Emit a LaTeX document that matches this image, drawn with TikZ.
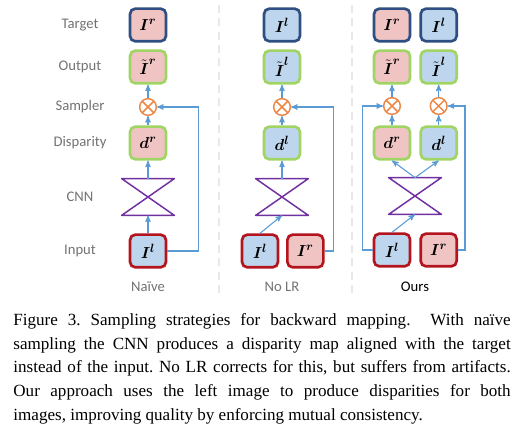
\documentclass[tikz,border=0pt]{standalone}
\usepackage{amsmath}
\usepackage{fontspec}
\setmainfont{Liberation Serif}
\newfontfamily\lblfont{Carlito}
\usepackage{tikz}
\usetikzlibrary{arrows,positioning}
\definecolor{pinkf}{RGB}{241,196,196}
\definecolor{bluef}{RGB}{190,214,237}
\definecolor{tgtblue}{RGB}{47,78,130}
\definecolor{outgreen}{RGB}{160,212,100}
\definecolor{inred}{RGB}{180,20,30}
\definecolor{smporange}{RGB}{237,135,70}
\definecolor{cnnpurple}{RGB}{112,48,160}
\definecolor{flowblue}{RGB}{91,155,213}
\definecolor{lblgray}{RGB}{115,115,115}

\begin{document}
\begin{tikzpicture}[x=0.75pt,y=-0.75pt,->,>=stealth',semithick,node distance=35pt]
		\tikzstyle{img}=[draw,line width=2pt,rounded corners=4pt,minimum width=27pt,minimum height=24.5pt,inner sep=0pt,font=\fontsize{13}{13}\selectfont]
		\tikzstyle{target}=[img,draw=tgtblue]
		\tikzstyle{outp}=[img,draw=outgreen]
		\tikzstyle{inp}=[img,draw=inred]
		\tikzstyle{smp}=[circle,draw=smporange,line width=1.1pt,minimum size=12.5pt,inner sep=0pt,
			path picture={\draw[-,smporange,line width=1.1pt] (path picture bounding box.north west) -- (path picture bounding box.south east)
				(path picture bounding box.north east) -- (path picture bounding box.south west);}]
		\tikzstyle{cnn}=[minimum width=39pt,minimum height=27pt,inner sep=0pt]
		\tikzstyle{flow}=[flowblue,line width=0.8pt]
		\tikzstyle{lbl}=[text=lblgray,font=\lblfont\fontsize{11}{13}\selectfont]
		\useasboundingbox (0,0) rectangle (521,427);
		
		% row labels
		\node[lbl] (lt) at (80,25)  {Target};
		\node[lbl] (lo) at (80,67)  {Output};
		\node[lbl] (ls) at (80,107) {Sampler};
		\node[lbl] (ld) at (80,143) {Disparity};
		\node[lbl] (lc) at (80,197) {CNN};
		\node[lbl] (li) at (80,251) {Input};
		
		% naive
		\node[target,fill=pinkf] (t0) at (148,25)  {$\boldsymbol{I^r}$};
		\node[outp,fill=pinkf]   (o0) at (148,67)  {${\tilde{\boldsymbol{I}}}^{\boldsymbol{r}}$};
		\node[smp]               (m0) at (148,107) {};
		\node[outp,fill=pinkf]   (d0) at (148,143) {$\boldsymbol{d^r}$};
		\node[cnn]               (c0) at (148,197) {};
		\node[inp,fill=bluef]    (i0) at (148,251) {$\boldsymbol{I^l}$};
		
		% no LR
		\node[target,fill=bluef] (t1) at (282,25)  {$\boldsymbol{I^l}$};
		\node[outp,fill=bluef]   (o1) at (282,67)  {${\tilde{\boldsymbol{I}}}^{\boldsymbol{l}}$};
		\node[smp]               (m1) at (282,107) {};
		\node[outp,fill=bluef]   (d1) at (282,143) {$\boldsymbol{d^l}$};
		\node[cnn]               (c1) at (282,197) {};
		\node[inp,fill=bluef]    (i1) at (260,251) {$\boldsymbol{I^l}$};
		\node[inp,fill=pinkf]    (i12) [right of=i1,node distance=34pt] {$\boldsymbol{I^r}$};
		
		% ours
		\node[target,fill=pinkf] (t2) at (392,25)  {$\boldsymbol{I^r}$};
		\node[target,fill=bluef] (t22) [right of=t2] {$\boldsymbol{I^l}$};
		\node[outp,fill=pinkf]   (o2) at (392,67)  {${\tilde{\boldsymbol{I}}}^{\boldsymbol{r}}$};
		\node[outp,fill=bluef]   (o22) [right of=o2] {${\tilde{\boldsymbol{I}}}^{\boldsymbol{l}}$};
		\node[smp]               (m2) at (392,106) {};
		\node[smp]               (m22) [right of=m2] {};
		\node[outp,fill=pinkf]   (d2) at (392,143) {$\boldsymbol{d^r}$};
		\node[outp,fill=bluef]   (d22) [right of=d2] {$\boldsymbol{d^l}$};
		\node[cnn]               (c2) at (415,196) {};
		\node[inp,fill=bluef]    (i2) at (392,250) {$\boldsymbol{I^l}$};
		\node[inp,fill=pinkf]    (i22) [right of=i2] {$\boldsymbol{I^r}$};
		
		\foreach \n in {c0,c1,c2}
		\draw[-,cnnpurple,line width=1.1pt,line join=round] (\n.north west) -- (\n.north east) -- (\n.south west) -- (\n.south east) -- cycle;
		
		\draw[flow] (i0) -- (c0);
		\draw[flow] (c0) -- (d0);
		\draw[flow] (d0) -- (m0);
		\draw[flow] (m0) -- (o0);
		\draw[flow] (i0.east) -- ++(31,0) |- (m0);
		
		\draw[flow] (i1.north) -- (c1.south);
		\draw[flow] (c1) -- (d1);
		\draw[flow] (d1) -- (m1);
		\draw[flow] (m1) -- (o1);
		\draw[flow] (i12.east) -- ++(9,0) |- (m1);
		
		\draw[flow] (i2.north) -- (c2.south);
		\draw[flow] (c2.north) -- (d2.south);
		\draw[flow] (c2.north) -- (d22.south);
		\draw[flow] (d2) -- (m2);
		\draw[flow] (d22) -- (m22);
		\draw[flow] (m2) -- (o2);
		\draw[flow] (m22) -- (o22);
		\draw[flow] (i2.west) -- ++(-10,0) |- (m2);
		\draw[flow] (i22.east) -- ++(7,0) |- (m22);
		
		% separators
		\draw[-,gray!18,line width=1.5pt,dash pattern=on 6pt off 4pt] (219,5) -- (219,298);
		\draw[-,gray!18,line width=1.5pt,dash pattern=on 6pt off 4pt] (352,5) -- (352,298);
		
		\node[lbl] (n0) at (148,287) {Naïve};
		\node[lbl] (n1) at (282,287) {No LR};
		\node[lbl,text=black] (n2) at (415,287) {Ours};
		
		% caption
		\node[anchor=north west,text width=373pt,align=justify,inner sep=0pt,font=\fontsize{12.8}{17.8}\selectfont\frenchspacing] (cap) at (13,313)
		{Figure 3. Sampling strategies for backward mapping.~ With naïve\linebreak
			sampling the CNN produces a disparity map aligned with the target\linebreak
			instead of the input. No LR corrects for this, but suffers from artifacts.\linebreak
			Our approach uses the left image to produce disparities for both\linebreak
			images, improving quality by enforcing mutual consistency.};
\end{tikzpicture}
\end{document}
